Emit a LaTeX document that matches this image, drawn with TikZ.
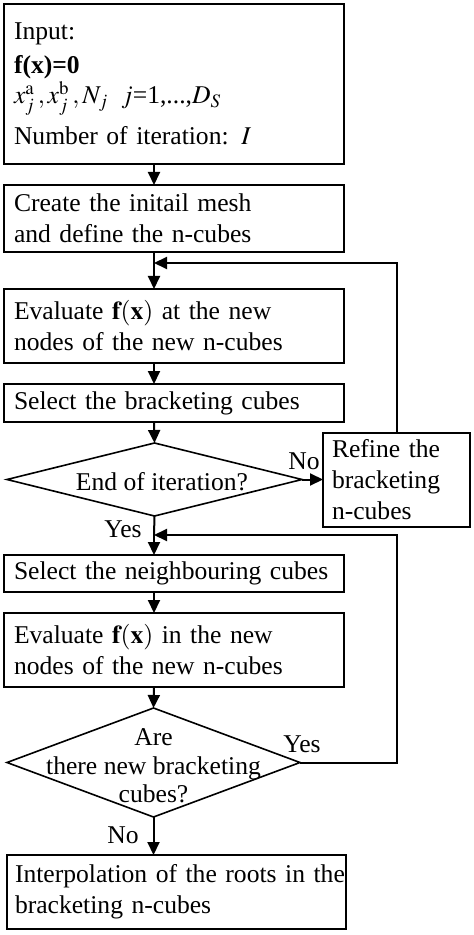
\documentclass[tikz,border=0pt]{standalone}
\usepackage{mathptmx}
\usepackage{fontspec}
\setmainfont{Liberation Serif}
\usetikzlibrary{shapes.geometric,arrows.meta}
\begin{document}
\begin{tikzpicture}[x=0.5pt,y=-0.5pt,
  box/.style={draw,line width=0.8pt,rectangle,anchor=north west,inner xsep=5pt,inner ysep=0pt,outer sep=0pt,align=left,font=\fontsize{12.8}{15.5}\selectfont},
  dia/.style={draw,line width=0.8pt,diamond,inner sep=0pt,outer sep=0pt},
  dtext/.style={align=center,inner sep=0pt,font=\fontsize{12.8}{14.3}\selectfont},
  lab/.style={inner sep=0pt,font=\fontsize{12.8}{14}\selectfont},
  conn/.style={line width=1pt,-{Triangle[length=6.5pt,width=6pt]}},
  plain/.style={line width=1pt}
]
\useasboundingbox[fill=white] (0,0) rectangle (474,935);
\coordinate (ax) at (154,0);

\node[box,minimum width=170pt,minimum height=80pt,text width=160pt] (in) at (4,4)
 {Input:\\[1.5pt]
  \textbf{f(x)=0}\\[-0.5pt]
  $x_j^{\mathrm{a}}\,{,}\,x_j^{\mathrm{b}}\,{,}\,N_j$\enspace$j$=1,...,$D_S$\\[5pt]
  Number of iteration: $I$};
\node[box,minimum width=170pt,minimum height=33.5pt,text width=160pt] (create) at (4,185)
 {Create the initail mesh\\and define the n-cubes};
\node[box,minimum width=170pt,minimum height=37pt,text width=160pt] (eval) at (4,289)
 {Evaluate $\mathbf{f}(\mathbf{x})$\ at the new\\nodes of the new n-cubes};
\node[box,minimum width=170pt,minimum height=19pt,text width=160pt] (sel) at (4,384)
 {Select the bracketing cubes};
\node[dia,minimum width=147.5pt,minimum height=36.5pt] (d1) at (154.5,479.5) {};
\node[dtext] (d1t) at (162,482) {End of iteration?};
\node[box,minimum width=73.5pt,minimum height=47pt,text width=64.5pt,inner xsep=4.5pt] (refine) at (323,433)
 {Refine the\\bracketing\\n-cubes};
\node[box,minimum width=170pt,minimum height=18.5pt,text width=160pt] (seln) at (4,555)
 {Select the neighbouring cubes};
\node[box,minimum width=170pt,minimum height=37pt,text width=160pt] (eval2) at (4,613)
 {Evaluate $\mathbf{f}(\mathbf{x})$\ in the new\\nodes of the new n-cubes};
\node[dia,minimum width=146.5pt,minimum height=54.5pt] (d2) at (153.5,762.5) {};
\node[dtext] (d2t) at (153.5,766) {Are\\there new bracketing\\cubes?};
\node[box,minimum width=169.5pt,minimum height=37pt,text width=161.5pt,inner xsep=4pt] (interp) at (7,855)
 {\mbox{Interpolation of the roots in the}\\bracketing n-cubes};

\coordinate (m1) at (154,263);
\coordinate (m2) at (154,535);

\draw[conn] (in.south -| ax) -- (create.north -| ax);
\draw[plain] (create.south -| ax) -- (m1);
\draw[conn] (m1) -- (eval.north -| ax);
\draw[conn] (eval.south -| ax) -- (sel.north -| ax);
\draw[conn] (sel.south -| ax) -- (d1.north);
\draw[conn] (d1.east) -- (refine.west |- d1.east);
\draw[conn] (refine.north) |- (m1);
\draw[plain] (d1.south) -- (m2);
\draw[conn] (m2) -- (seln.north -| ax);
\draw[conn] (seln.south -| ax) -- (eval2.north -| ax);
\draw[conn] (eval2.south -| ax) -- (d2.north);
\draw[conn] (d2.east) -| (m2 -| refine.north) -- (m2);
\draw[conn] (d2.south) -- (interp.north -| d2.south);

\node[lab] (no1) at (304,461) {No};
\node[lab] (yes1) at (123,529) {Yes};
\node[lab] (yes2) at (302,744) {Yes};
\node[lab] (no2) at (123,835) {No};
\end{tikzpicture}
\end{document}
